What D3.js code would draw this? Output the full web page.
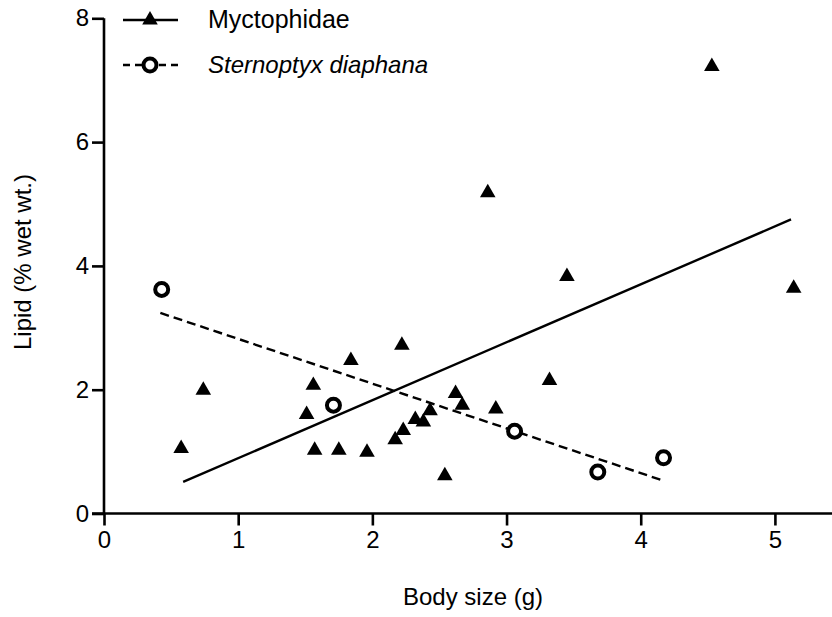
<!DOCTYPE html>
<html>
<head>
<meta charset="utf-8">
<script src="https://cdn.jsdelivr.net/npm/d3@7"></script>
<style>
  html, body { margin: 0; padding: 0; background: #fff; }
  svg text { font-family: "Liberation Sans", Arial, Helvetica, sans-serif; fill: #000; }
</style>
</head>
<body>
<svg id="chart" width="832" height="617"></svg>
<script>
// ---- data ----
const myctoX = [0.575, 0.74, 1.51, 1.56, 1.57, 1.75, 1.84, 1.96, 2.17, 2.23, 2.22, 2.32, 2.38, 2.43, 2.54, 2.62, 2.67, 2.86, 2.92, 3.32, 3.45, 4.53, 5.14];
const myctoY = [1.05, 1.99, 1.60, 2.07, 1.02, 1.02, 2.47, 0.99, 1.19, 1.34, 2.72, 1.52, 1.48, 1.66, 0.61, 1.94, 1.75, 5.18, 1.69, 2.15, 3.83, 7.22, 3.64];
const sternX = [0.43, 1.71, 3.06, 3.68, 4.17];
const sternY = [3.62, 1.75, 1.33, 0.67, 0.90];
const myctoFitX = [0.59, 5.12];
const myctoFitY = [0.51, 4.75];
const sternFitX = [0.42, 4.17];
const sternFitY = [3.24, 0.53];
const xTicks = [0, 1, 2, 3, 4, 5];
const yTicks = [0, 2, 4, 6, 8];
const seriesNames = ["Myctophidae", "Sternoptyx diaphana"];
const xTitle = "Body size (g)";
const yTitle = "Lipid (% wet wt.)";

// ---- layout ----
const svg = d3.select("#chart");
const x = d3.scaleLinear().domain([0, 5.5]).range([104, 842]);
const y = d3.scaleLinear().domain([0, 8]).range([513.5, 18.3]);
const FS = 24;

// axes
const xAxis = d3.axisBottom(x).tickValues(xTicks).tickSize(12).tickPadding(5).tickFormat(d3.format("d"));
const yAxis = d3.axisLeft(y).tickValues(yTicks).tickSize(12).tickPadding(3).tickFormat(d3.format("d"));

const gx = svg.append("g").attr("transform", `translate(0,${y(0)})`).call(xAxis);
const gy = svg.append("g").attr("transform", `translate(${x(0)},0)`).call(yAxis);
[gx, gy].forEach(g => {
  g.select(".domain").attr("stroke", "#000").attr("stroke-width", 2.6);
  g.selectAll(".tick line").attr("stroke", "#000").attr("stroke-width", 2.6);
  g.selectAll(".tick text").attr("font-size", FS).attr("font-family", "Liberation Sans, Arial, sans-serif").attr("fill", "#000");
});
gx.select(".domain").attr("d", `M${x(0) - 12},0H${x(5.5)}`);
gy.select(".domain").attr("d", `M0,${y(8)}V${y(0)}`);

// titles
svg.append("text").attr("x", 473).attr("y", 605).attr("text-anchor", "middle")
  .attr("font-size", FS).text(xTitle);
svg.append("text").attr("transform", `translate(31,262) rotate(-90)`).attr("text-anchor", "middle")
  .attr("font-size", FS).text(yTitle);

// regression lines
const line = d3.line().x(d => x(d[0])).y(d => y(d[1]));
svg.append("path").datum(d3.zip(myctoFitX, myctoFitY)).attr("d", line)
  .attr("fill", "none").attr("stroke", "#000").attr("stroke-width", 2.4);
svg.append("path").datum(d3.zip(sternFitX, sternFitY)).attr("d", line)
  .attr("fill", "none").attr("stroke", "#000").attr("stroke-width", 2.4).attr("stroke-dasharray", "9,5");

// markers
const tri = d3.symbol().type(d3.symbolTriangle).size(105);
svg.append("g").selectAll("path").data(d3.zip(myctoX, myctoY)).join("path")
  .attr("d", tri).attr("transform", d => `translate(${x(d[0])},${y(d[1])})`).attr("fill", "#000");
svg.append("g").selectAll("circle").data(d3.zip(sternX, sternY)).join("circle")
  .attr("cx", d => x(d[0])).attr("cy", d => y(d[1])).attr("r", 6.5)
  .attr("fill", "#fff").attr("stroke", "#000").attr("stroke-width", 4);

// legend
const lg = svg.append("g");
const rows = [20, 65];
lg.append("line").attr("x1", 123).attr("x2", 178).attr("y1", rows[0]).attr("y2", rows[0]).attr("stroke", "#000").attr("stroke-width", 2.4);
lg.append("path").attr("d", tri).attr("transform", `translate(150,${rows[0]})`).attr("fill", "#000");
lg.append("line").attr("x1", 123).attr("x2", 178).attr("y1", rows[1]).attr("y2", rows[1]).attr("stroke", "#000").attr("stroke-width", 2.4).attr("stroke-dasharray", "7,5");
lg.append("circle").attr("cx", 150).attr("cy", rows[1]).attr("r", 6.5).attr("fill", "#fff").attr("stroke", "#000").attr("stroke-width", 4);
lg.append("text").attr("x", 208).attr("y", rows[0] + 8).attr("font-size", 25).text(seriesNames[0]);
lg.append("text").attr("x", 208).attr("y", rows[1] + 8).attr("font-size", 24).attr("font-style", "italic").text(seriesNames[1]);
</script>
</body>
</html>
